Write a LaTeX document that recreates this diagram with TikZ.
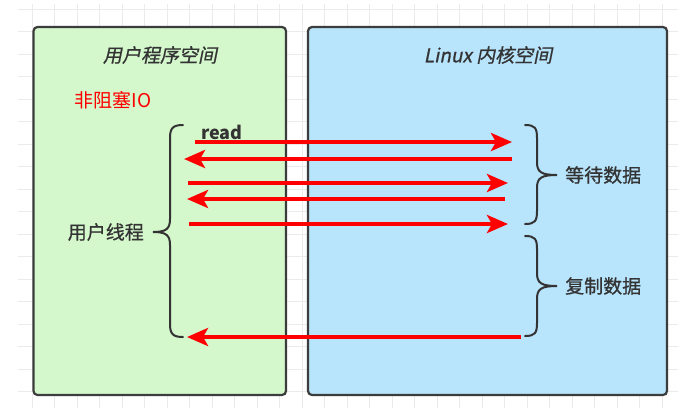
\documentclass[tikz,border=0pt]{standalone}
\usepackage{fontspec}
\setmainfont{Noto Sans CJK SC}
\newfontfamily\slantcjk[FakeSlant=0.2, FakeBold=0.8]{Noto Sans CJK SC}
\newfontfamily\labelcjk[FakeBold=0.8]{Noto Sans CJK SC}
\usetikzlibrary{arrows.meta}

\definecolor{gridgray}{HTML}{EBEBEB}
\definecolor{boxline}{HTML}{3C3C3C}
\definecolor{userfill}{HTML}{D4F8CC}
\definecolor{kernfill}{HTML}{B8E4FC}
\definecolor{txt}{HTML}{333333}
\definecolor{callred}{HTML}{FF0000}

\tikzset{
  gridline/.style={draw=gridgray, line width=0.9pt},
  spacebox/.style={draw=boxline, line width=2.2pt, rounded corners=4pt, inner sep=0pt},
  title/.style={text=txt, font=\slantcjk\fontsize{19}{22}\selectfont, inner sep=0pt},
  label/.style={text=txt, font=\labelcjk\fontsize{19}{22}\selectfont, inner sep=0pt},
  bracepath/.style={draw=txt, line width=2pt, line cap=round},
  callarrow/.style={draw=callred, line width=4pt, -{Stealth[length=21pt, width=18pt, inset=5pt]}},
}

\begin{document}
\begin{tikzpicture}[x=1pt, y=-1pt]
\useasboundingbox (0,0) rectangle (687,416);
\fill[white] (0,0) rectangle (687,416);

% background grid
\foreach \i in {0,...,28}
  \draw[gridline] (32.3+22.5*\i, 4) -- (32.3+22.5*\i, 408);
\foreach \j in {0,...,17}
  \draw[gridline] (18, 9.3+22.5*\j) -- (678, 9.3+22.5*\j);

% the two address spaces
\node[spacebox, fill=userfill, minimum width=252.5, minimum height=368] (user) at (159.75,211) {};
\node[spacebox, fill=kernfill, minimum width=359, minimum height=368] (kernel) at (487.5,211) {};

\node[title] (usertitle) at (160,55) {用户程序空间};
\node[title] (kerntitle) at (488,55) {Linux 内核空间};

\node[text=callred, font=\fontsize{19}{22}\selectfont, inner sep=0pt] (nbio) at (113,100) {非阻塞IO};
\node[text=txt, font=\bfseries\fontsize{18}{22}\selectfont, inner sep=0pt] (read) at (222,132) {read};

% brace for the user thread
\draw[bracepath] (183,125) .. controls (173,125) and (170,128) .. (170,138)
  -- (170,219) .. controls (170,229) and (166,232) .. (153,232)
  .. controls (166,232) and (170,235) .. (170,245)
  -- (170,324) .. controls (170,334) and (173,337) .. (183,337);
\node[label, anchor=east] (thread) at (144,232) {用户线程};

% braces on the kernel side
\draw[bracepath] (525,125) .. controls (535,125) and (537,128) .. (537,138)
  -- (537,162) .. controls (537,172) and (541,175) .. (557,175)
  .. controls (541,175) and (537,178) .. (537,188)
  -- (537,211) .. controls (537,221) and (535,224) .. (525,224);
\node[label, anchor=west] (wait) at (565,175) {等待数据};

\draw[bracepath] (525,236) .. controls (535,236) and (537,239) .. (537,249)
  -- (537,273) .. controls (537,283) and (541,286) .. (557,286)
  .. controls (541,286) and (537,289) .. (537,299)
  -- (537,323) .. controls (537,333) and (535,336) .. (525,336);
\node[label, anchor=west] (copy) at (565,286) {复制数据};

% system calls and replies
\coordinate (a1s) at (195,142); \coordinate (a1e) at (512,142);
\coordinate (a2s) at (512,159); \coordinate (a2e) at (184,159);
\coordinate (a3s) at (188,183); \coordinate (a3e) at (508,183);
\coordinate (a4s) at (505,199); \coordinate (a4e) at (187,199);
\coordinate (a5s) at (189,224); \coordinate (a5e) at (508,224);
\coordinate (a6s) at (521,337); \coordinate (a6e) at (187,337);

\draw[callarrow] (a1s) -- (a1e);
\draw[callarrow] (a2s) -- (a2e);
\draw[callarrow] (a3s) -- (a3e);
\draw[callarrow] (a4s) -- (a4e);
\draw[callarrow] (a5s) -- (a5e);
\draw[callarrow] (a6s) -- (a6e);
\end{tikzpicture}
\end{document}
